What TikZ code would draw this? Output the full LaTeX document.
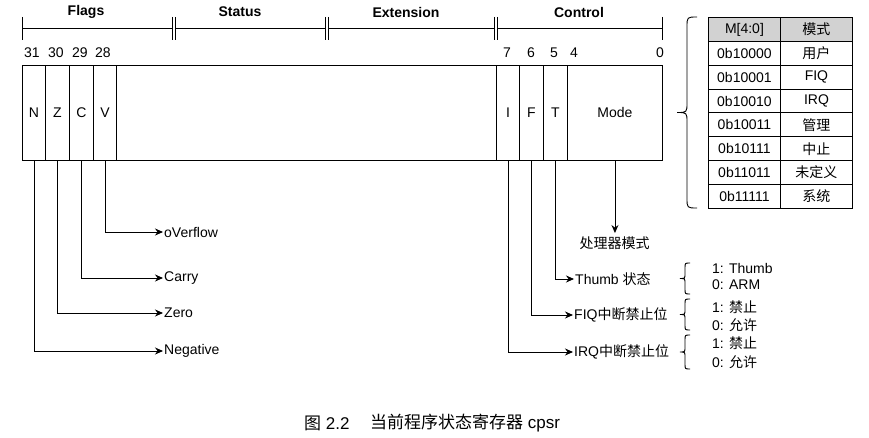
\documentclass[tikz,border=0pt]{standalone}
\usepackage{fontspec}
\setmainfont{Liberation Sans}
\newfontfamily\cjk{Noto Sans CJK SC}
\usetikzlibrary{arrows.meta}
\newcommand\cbrace[4]{%
  \pgfmathsetmacro\bym{(#2+#3)/2}%
  \pgfmathsetmacro\bxa{#1-#4}%
  \pgfmathsetmacro\bxb{#1-2*#4}%
  \draw[ln] (#1,#2) .. controls (\bxa,#2) .. (\bxa,{#2+#4})
    -- (\bxa,{\bym-#4}) .. controls (\bxa,\bym) .. (\bxb,\bym)
    .. controls (\bxa,\bym) .. (\bxa,{\bym+#4})
    -- (\bxa,{#3-#4}) .. controls (\bxa,#3) .. (#1,#3);%
}
\begin{document}
\begin{tikzpicture}[x=1pt,y=-1pt,
  font=\fontsize{14}{16}\selectfont,
  ln/.style={line width=0.9pt},
  cell/.style={draw, line width=0.9pt, minimum height=95pt, inner sep=0pt, anchor=north west},
  arr/.style={-{Stealth[length=8pt,width=7pt]}, line width=0.9pt},
  lab/.style={anchor=west, inner sep=1pt},
  hdr/.style={font=\fontsize{14}{16}\selectfont\bfseries},
  bitno/.style={inner sep=0pt},
  tcell/.style={draw, line width=0.9pt, anchor=north west, minimum height=23.875pt, inner sep=0pt},
  opt/.style={anchor=west, inner sep=0pt}]
\useasboundingbox (0,0) rectangle (869,438);

% scale bar
\draw[ln] (22,17) -- (22,40) (22,28) -- (172,28)
  (172,17) -- (172,40) (175,17) -- (175,40) (175,28) -- (325,28)
  (325,17) -- (325,40) (328,17) -- (328,40) (328,28) -- (494,28)
  (494,17) -- (494,40) (497,17) -- (497,40) (497,28) -- (662,28)
  (662,17) -- (662,40);
\node[hdr] (hflags) at (86,12) {Flags};
\node[hdr] (hstatus) at (240,12) {Status};
\node[hdr] (hext) at (406,12) {Extension};
\node[hdr] (hctrl) at (579,12) {Control};

% bit numbers
\node[bitno] (b31) at (32,53) {31};
\node[bitno] (b30) at (56,53) {30};
\node[bitno] (b29) at (80,53) {29};
\node[bitno] (b28) at (103,53) {28};
\node[bitno] (b7) at (507,53) {7};
\node[bitno] (b6) at (531,53) {6};
\node[bitno] (b5) at (554,53) {5};
\node[bitno] (b4) at (574,53) {4};
\node[bitno] (b0) at (660,53) {0};

% register cells
\node[cell, minimum width=23pt] (N) at (22,65) {N};
\node[cell, minimum width=24pt] (Z) at (45,65) {Z};
\node[cell, minimum width=24pt] (C) at (69,65) {C};
\node[cell, minimum width=23pt] (V) at (93,65) {V};
\node[cell, minimum width=380pt] (blank) at (116,65) {};
\node[cell, minimum width=23pt] (I) at (496,65) {I};
\node[cell, minimum width=24pt] (F) at (519,65) {F};
\node[cell, minimum width=24pt] (T) at (543,65) {T};
\node[cell, minimum width=95pt] (Mode) at (567,65) {Mode};

% flag labels
\node[lab] (ovf) at (163,232) {oVerflow};
\node[lab] (carry) at (163,278) {Carry};
\node[lab] (zero) at (163,313) {Zero};
\node[lab] (neg) at (163,351) {Negative};
\draw[arr] (V.south) |- (ovf.west);
\draw[arr] (C.south) |- (carry.west);
\draw[arr] (Z.south) |- (zero.west);
\draw[arr] (N.south) |- (neg.west);

% control labels
\node (pm) at (614.5,243) {\cjk 处理器模式};
\draw[arr] (Mode.south) -- (Mode.south |- pm.north);
\node[lab] (thumb) at (574,279) {Thumb {\cjk 状态}};
\node[lab] (fiq) at (573,315) {FIQ{\cjk 中断禁止位}};
\node[lab] (irq) at (573,352) {IRQ{\cjk 中断禁止位}};
\draw[arr] (T.south) |- (thumb.west);
\draw[arr] (F.south) |- (fiq.west);
\draw[arr] (I.south) |- (irq.west);

% small braces and options
\cbrace{690}{263}{294}{5}
\cbrace{690}{299}{330}{5}
\cbrace{690}{335}{369}{5}
\node[opt] (t1) at (712,268) {1: Thumb};
\node[opt] (t0) at (712,285) {0: ARM};
\node[opt] (f1) at (712,307) {1: {\cjk 禁止}};
\node[opt] (f0) at (712,325) {0: {\cjk 允许}};
\node[opt] (i1) at (712,343) {1: {\cjk 禁止}};
\node[opt] (i0) at (712,362) {0: {\cjk 允许}};

% big brace
\cbrace{697}{17}{208}{10}

% table
\node[tcell, fill=gray!35, minimum width=72pt] (h1) at (708,17) {M[4:0]};
\node[tcell, fill=gray!35, minimum width=72pt] (h2) at (780,17) {\cjk 模式};
\foreach \i/\code/\name in {1/0b10000/{\cjk 用户}, 2/0b10001/FIQ, 3/0b10010/IRQ,
  4/0b10011/{\cjk 管理}, 5/0b10111/{\cjk 中止}, 6/0b11011/{\cjk 未定义}, 7/0b11111/{\cjk 系统}}{
  \node[tcell, minimum width=72pt] (c\i) at (708,{17+\i*23.875}) {\code};
  \node[tcell, minimum width=72pt] (m\i) at (780,{17+\i*23.875}) {\name};
}

% caption
\node[anchor=west, inner sep=0pt, font=\fontsize{17}{20}\selectfont] (cap1) at (304,423) {{\cjk 图} 2.2};
\node[anchor=west, inner sep=0pt, font=\fontsize{17}{20}\selectfont] (cap2) at (370,423) {{\cjk 当前程序状态寄存器} cpsr};
\end{tikzpicture}
\end{document}
